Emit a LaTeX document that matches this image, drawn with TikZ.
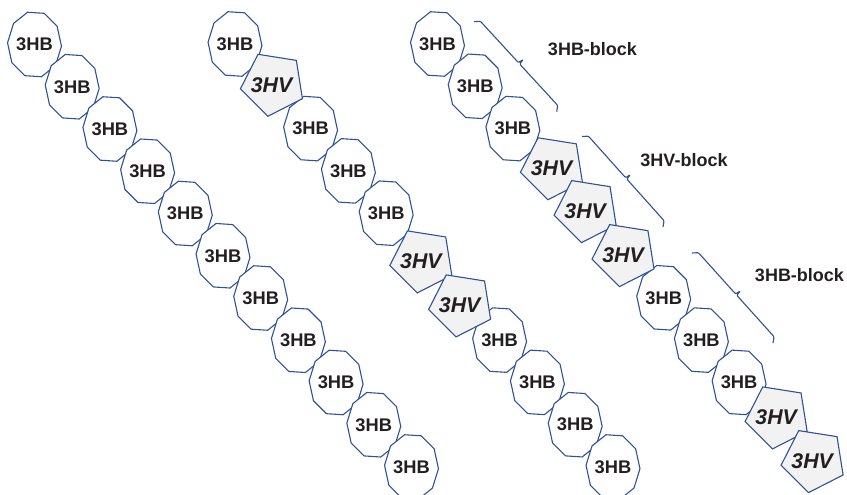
\documentclass[tikz,border=0pt]{standalone}
\usepackage{fontspec}
\setmainfont{Liberation Sans}
\usetikzlibrary{calc}
\definecolor{edge}{RGB}{46,82,150}
\definecolor{ink}{RGB}{35,31,32}
\definecolor{hvfill}{RGB}{242,242,242}
\tikzset{
  hbshape/.style={draw=edge, line width=1.1pt, fill=white},
  hvshape/.style={draw=edge, line width=1.1pt, fill=hvfill},
  hblabel/.style={font=\fontsize{18.3}{18.3}\selectfont\bfseries, text=ink, inner sep=0pt},
  hvlabel/.style={font=\fontsize{21.3}{21.3}\selectfont\bfseries\itshape, text=ink, inner sep=0pt},
  blocklabel/.style={font=\fontsize{18}{18}\selectfont\bfseries, text=ink, inner sep=0pt},
  bracketline/.style={draw=edge, line width=1.1pt, rounded corners=1pt},
}
\newcommand\HBunit[3]{%
  \draw[hbshape, shift={(#2,#3)}] (3:27 and 33.4) \foreach \a in {39,75,...,327}{ -- (\a:27 and 33.4)} -- cycle;
  \node[hblabel] (#1) at (#2,#3) {3HB};
}
\newcommand\HVunit[3]{%
  \draw[hvshape, shift={(#2,#3)}] (27:33) -- (99:33) -- (171:33) -- (243:33) -- (315:33) -- cycle;
  \node[hvlabel] (#1) at ($(#2,#3)+(-1.5,1)$) {3HV};
}
% bracket from start #1 to end #2, prefix #3
\newcommand\Bracket[3]{%
  \coordinate (#3m) at ($(#1)!0.5!(#2)$);
  \coordinate (#3p1) at ($(#1)!4pt!(#2)$);
  \coordinate (#3a) at ($(#3p1)!5pt!90:(#2)$);
  \coordinate (#3p2) at ($(#3m)!-1pt!(#2)$);
  \coordinate (#3b) at ($(#3p2)!5pt!90:(#2)$);
  \coordinate (#3t) at ($(#3m)!10.5pt!90:(#2)$);
  \coordinate (#3p3) at ($(#3m)!1pt!(#2)$);
  \coordinate (#3c) at ($(#3p3)!5pt!90:(#2)$);
  \coordinate (#3p4) at ($(#2)!4pt!(#1)$);
  \coordinate (#3d) at ($(#3p4)!5pt!-90:(#1)$);
  \draw[bracketline] (#1) -- (#3a) -- (#3b) -- (#3t) -- (#3c) -- (#3d) -- (#2);
}
\begin{document}
\begin{tikzpicture}[x=1pt, y=-1pt]
\useasboundingbox (0,0) rectangle (847,495);
% column 1
\foreach \k in {0,...,10}{
  \HBunit{a\k}{34.5+37.7*\k}{44.5+42.25*\k}
}
% column 2
\foreach \k in {0,2,3,4,7,8,9,10}{
  \HBunit{b\k}{235+37.8*\k}{44+42.3*\k}
}
\HVunit{b1}{273}{83.7}
\HVunit{b5}{422.4}{260.3}
\HVunit{b6}{461.2}{304.3}
% column 3
\foreach \k in {0,1,2,6,7,8}{
  \HBunit{c\k}{437.5+37.7*\k}{44+42.3*\k}
}
\HVunit{c3}{553}{167.2}
\HVunit{c4}{586.7}{210}
\HVunit{c5}{624.6}{254}
\HVunit{c9}{777.7}{416.3}
\HVunit{c10}{813.7}{460}
% brackets
\coordinate (k1s) at (474,21.7);
\coordinate (k1e) at (556.7,111.7);
\coordinate (k2s) at (582,136.5);
\coordinate (k2e) at (663,227);
\coordinate (k3s) at (692,253);
\coordinate (k3e) at (773,343);
\Bracket{k1s}{k1e}{q1}
\Bracket{k2s}{k2e}{q2}
\Bracket{k3s}{k3e}{q3}
\node[blocklabel] (l1) at (592.5,48.8) {3HB-block};
\node[blocklabel] (l2) at (684,159.7) {3HV-block};
\node[blocklabel] (l3) at (799.5,275) {3HB-block};
\end{tikzpicture}
\end{document}
